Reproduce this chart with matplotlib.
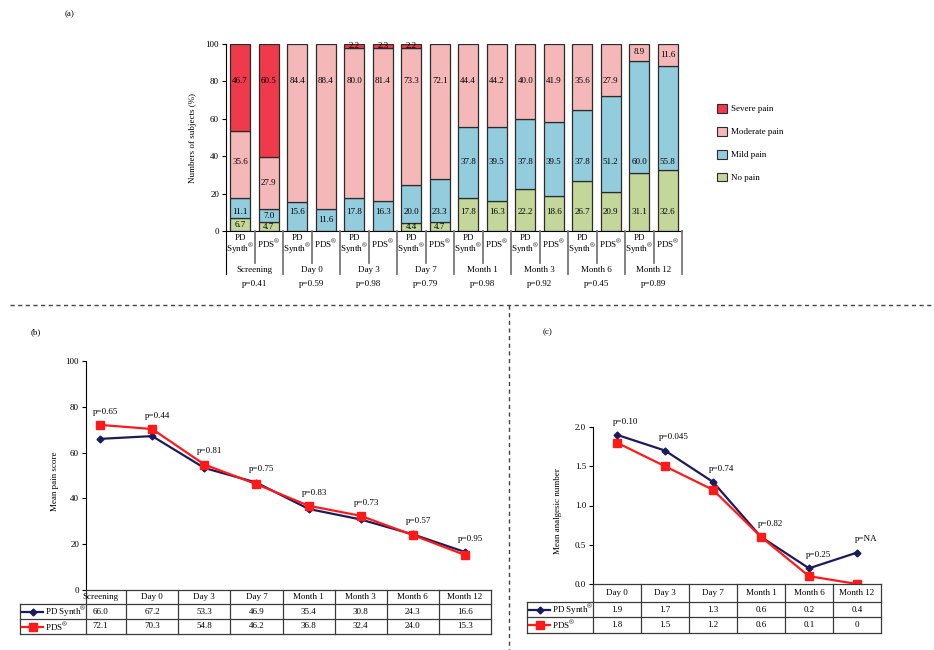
import numpy as np
import matplotlib.pyplot as plt
from matplotlib.lines import Line2D
from matplotlib.patches import Patch

plt.rcParams['font.family'] = ['Liberation Serif', 'DejaVu Serif']
plt.rcParams['mathtext.fontset'] = 'stix'
plt.rcParams['font.size'] = 6.5
plt.rcParams['axes.linewidth'] = 0.8

REG = r'$^{\circledR}$'
NAVY = '#1b1b5c'
RED = '#ff1a1a'

# (a) pain severity per visit, bars alternate PD Synth / PDS
visits = ['Screening', 'Day 0', 'Day 3', 'Day 7', 'Month 1', 'Month 3', 'Month 6', 'Month 12']
visit_p = ['p=0.41', 'p=0.59', 'p=0.98', 'p=0.79', 'p=0.98', 'p=0.92', 'p=0.45', 'p=0.89']
pain_levels = ['No pain', 'Mild pain', 'Moderate pain', 'Severe pain']
no_pain = [6.7, 4.7, 0, 0, 0, 0, 4.4, 4.7, 17.8, 16.3, 22.2, 18.6, 26.7, 20.9, 31.1, 32.6]
mild_pain = [11.1, 7.0, 15.6, 11.6, 17.8, 16.3, 20.0, 23.3, 37.8, 39.5, 37.8, 39.5, 37.8, 51.2, 60.0, 55.8]
moderate_pain = [35.6, 27.9, 84.4, 88.4, 80.0, 81.4, 73.3, 72.1, 44.4, 44.2, 40.0, 41.9, 35.6, 27.9, 8.9, 11.6]
severe_pain = [46.7, 60.5, 0, 0, 2.2, 2.3, 2.2, 0, 0, 0, 0, 0, 0, 0, 0, 0]

# (b) mean pain score
score_visits = ['Screening', 'Day 0', 'Day 3', 'Day 7', 'Month 1', 'Month 3', 'Month 6', 'Month 12']
score_pd = [66.0, 67.2, 53.3, 46.9, 35.4, 30.8, 24.3, 16.6]
score_pds = [72.1, 70.3, 54.8, 46.2, 36.8, 32.4, 24.0, 15.3]
score_p = ['p=0.65', 'p=0.44', 'p=0.81', 'p=0.75', 'p=0.83', 'p=0.73', 'p=0.57', 'p=0.95']

# (c) mean analgesic number
analg_visits = ['Day 0', 'Day 3', 'Day 7', 'Month 1', 'Month 6', 'Month 12']
analg_pd = [1.9, 1.7, 1.3, 0.6, 0.2, 0.4]
analg_pds = [1.8, 1.5, 1.2, 0.6, 0.1, 0]
analg_p = ['p=0.10', 'p=0.045', 'p=0.74', 'p=0.82', 'p=0.25', 'p=NA']

W, H = 934, 650
fig = plt.figure(figsize=(W / 100, H / 100), dpi=100)


def box(x0, y0, x1, y1):
    # pixel rectangle (top-left origin) -> figure fraction
    return [x0 / W, 1 - y1 / H, (x1 - x0) / W, (y1 - y0) / H]


# ---------- (a) ----------
ax = fig.add_axes(box(226, 44, 682, 231))
x = np.arange(len(no_pain))
layers = [no_pain, mild_pain, moderate_pain, severe_pain]
colours = ['#c4d79b', '#93cddd', '#f5b8b9', '#ef3a4b']
label_rows = [[10], [37, 10], [80, 37], [80]]
bottom = np.zeros(len(x))
for vals, col, rows in zip(layers, colours, label_rows):
    vals = np.array(vals, dtype=float)
    keep = vals > 0
    ax.bar(x[keep], vals[keep], 0.7, bottom=bottom[keep], color=col,
           edgecolor='#2b2b2b', linewidth=0.9, zorder=2)
    for xi, b, v in zip(x[keep], bottom[keep], vals[keep]):
        top = b + v
        y = next((r for r in rows if r - 3 >= b and r + 3 <= top), b + v / 2)
        ax.text(xi, y, f'{v:.1f}', ha='center', va='center', zorder=3)
    bottom += vals

ax.set_xlim(-0.5, 15.5)
ax.set_ylim(0, 100)
ax.set_yticks(range(0, 101, 20))
ax.set_xticks([])
ax.tick_params(axis='y', direction='out', length=3, width=0.8, pad=2)
for s in ('top', 'right'):
    ax.spines[s].set_visible(False)

# category labels under the bars
cat = fig.add_axes(box(226, 231, 682, 292))
cat.set_xlim(-0.5, 15.5)
cat.set_ylim(61, 0)
cat.axis('off')
for i in x:
    if i % 2 == 0:
        cat.text(i, 7, 'PD', ha='center', va='center')
        cat.text(i, 17.5, 'Synth' + REG, ha='center', va='center')
    else:
        cat.text(i, 12.5, 'PDS' + REG, ha='center', va='center')
for g, (v, p) in enumerate(zip(visits, visit_p)):
    cat.text(2 * g + 0.5, 39, v, ha='center', va='center')
    cat.text(2 * g + 0.5, 53.5, p, ha='center', va='center')
cat.plot([-0.5, -0.5], [0, 43], color='k', lw=0.8, clip_on=False)
for b in np.arange(1.5, 16, 2):
    cat.plot([b, b], [0, 43], color='#777777', lw=1.3, clip_on=False)
for b in np.arange(0.5, 15, 2):
    cat.plot([b, b], [0, 32], color='#777777', lw=1.3, clip_on=False)

handles = [Patch(facecolor=c, edgecolor='#2b2b2b', linewidth=0.8) for c in colours[::-1]]
fig.legend(handles, pain_levels[::-1], loc='upper left', bbox_to_anchor=(717 / W, 1 - 104 / H),
           frameon=False, handlelength=1.1, handleheight=1.1, handletextpad=0.5,
           labelspacing=1.5, borderpad=0, borderaxespad=0)

fig.text(70 / W, 1 - 14 / H, '(a)', ha='center', va='center')
fig.text(193 / W, 1 - 138 / H, 'Numbers of subjects (%)', rotation=90, ha='center', va='center')


# ---------- (b) and (c) ----------
def trend_panel(px, xlim, cats, pd_vals, pds_vals, pvals, ylim, yticks, tick_fmt,
                rows_px, legend_px, val_fmt, p_dx):
    left, top, right, bot = px
    ax = fig.add_axes(box(*px))
    x = np.arange(len(cats))
    ax.plot(x, pd_vals, color=NAVY, lw=1.6, marker='D', ms=3.5, zorder=3)
    ax.plot(x, pds_vals, color=RED, lw=1.6, marker='s', ms=6, zorder=4)
    for xi, a, b, p in zip(x, pd_vals, pds_vals, pvals):
        ax.annotate(p, (xi, max(a, b)), xytext=(p_dx, 9.5), textcoords='offset points',
                    ha='center', va='center')
    ax.set_xlim(*xlim)
    ax.set_ylim(*ylim)
    ax.set_yticks(yticks)
    ax.set_yticklabels([tick_fmt.format(t) for t in yticks])
    ax.set_xticks([])
    ax.tick_params(axis='y', direction='out', length=3, width=0.8, pad=2)
    for s in ('top', 'right', 'bottom'):
        ax.spines[s].set_visible(False)

    # data table with legend keys
    x0, x1 = xlim
    ppu = (right - left) / (x1 - x0)
    h0, h1, h2 = rows_px
    lx = x0 - legend_px / ppu
    tab = fig.add_axes(box(left - legend_px, bot, right, bot + h2))
    tab.set_xlim(lx, x1)
    tab.set_ylim(h2, 0)
    tab.axis('off')
    kw = dict(color='#3a3a3a', lw=0.9, clip_on=False)
    tab.plot([x0, x1], [0, 0], **kw)
    for y in (h0, h1, h2):
        tab.plot([lx, x1], [y, y], **kw)
    tab.plot([lx, lx], [h0, h2], **kw)
    for b in [x0, *(x[:-1] + 0.5), x1]:
        tab.plot([b, b], [0, h2], **kw)
    for xi, c in zip(x, cats):
        tab.text(xi, h0 / 2, c, ha='center', va='center')
    series = [('PD Synth' + REG, pd_vals, NAVY, 'D', 3.5, (h0 + h1) / 2),
              ('PDS' + REG, pds_vals, RED, 's', 6, (h1 + h2) / 2)]
    for name, vals, col, mk, ms, yc in series:
        tab.plot([lx + 2 / ppu, lx + 23 / ppu], [yc, yc], color=col, lw=1.6, clip_on=False)
        tab.plot([lx + 12.5 / ppu], [yc], color=col, marker=mk, ms=ms, clip_on=False)
        tab.text(lx + 24.5 / ppu, yc, name, ha='left', va='center')
        for xi, v in zip(x, vals):
            tab.text(xi, yc, val_fmt(v), ha='center', va='center')
    return ax


trend_panel((86, 361, 491, 590), (-0.27, 7.5), score_visits, score_pd, score_pds, score_p,
            (0, 100), list(range(0, 101, 20)), '{:d}', (14, 29, 44), 66,
            lambda v: f'{v:.1f}', 4)
trend_panel((593, 427, 881, 584), (-0.5, 5.5), analg_visits, analg_pd, analg_pds, analg_p,
            (0, 2.0), [0, 0.5, 1.0, 1.5, 2.0], '{:.1f}', (18, 33, 49), 66,
            lambda v: f'{v:g}', 6.5)

fig.text(36 / W, 1 - 332 / H, '(b)', ha='center', va='center')
fig.text(548 / W, 1 - 332 / H, '(c)', ha='center', va='center')
fig.text(55 / W, 1 - 481 / H, 'Mean pain score', rotation=90, ha='center', va='center')
fig.text(558 / W, 1 - 511 / H, 'Mean analgesic number', rotation=90, ha='center', va='center')

# dashed panel separators
fig.add_artist(Line2D([10 / W, 1], [1 - 305 / H] * 2, transform=fig.transFigure,
                      color='#444444', lw=1, ls=(0, (3, 2.5))))
fig.add_artist(Line2D([509 / W] * 2, [1 - 305 / H, 0], transform=fig.transFigure,
                      color='#444444', lw=1, ls=(0, (3, 2.5))))

fig.savefig('out.png', dpi=100)
